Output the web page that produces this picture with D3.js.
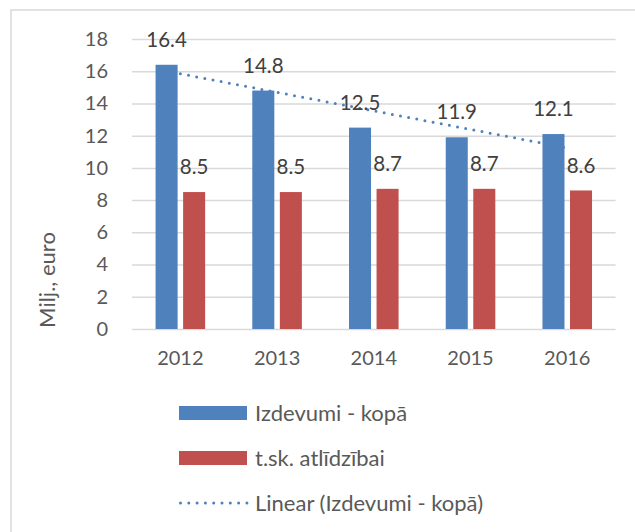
<!DOCTYPE html>
<html>
<head>
<meta charset="utf-8">
<script src="https://cdn.jsdelivr.net/npm/d3@7"></script>
<style>
  html, body { margin: 0; padding: 0; background: #fff; }
  svg { display: block; font-family: Lato, "Open Sans", sans-serif; }
</style>
</head>
<body>
<svg id="chart" width="635" height="532"></svg>
<script>
// Data
const years = ['2012', '2013', '2014', '2015', '2016'];
const seriesNames = ['Izdevumi - kopā', 't.sk. atlīdzībai'];
const totalValues = [16.4, 14.8, 12.5, 11.9, 12.1];
const salaryValues = [8.5, 8.5, 8.7, 8.7, 8.6];
const yTicks = [0, 2, 4, 6, 8, 10, 12, 14, 16, 18];
const trendLabel = 'Linear (Izdevumi - kopā)';
const yTitle = 'Milj., euro';

const colors = { blue: '#4F81BD', red: '#C0504D' };

const svg = d3.select('#chart');

// outer chart border (runs off the right/bottom edges)
svg.append('rect')
    .attr('x', 11).attr('y', 10)
    .attr('width', 640).attr('height', 540)
    .attr('fill', 'none')
    .attr('stroke', '#d9d9d9')
    .attr('stroke-width', 1.5);

const plot = { left: 132, right: 615.6, top: 39, bottom: 329 };

const x0 = d3.scaleBand().domain(years).range([plot.left, plot.right]);
const x1 = d3.scaleBand().domain(seriesNames).range([0, x0.bandwidth()])
    .paddingInner(0.2).paddingOuter(0.856);
const y = d3.scaleLinear().domain([0, 18]).range([plot.bottom, plot.top]);

// y axis + gridlines
svg.append('g')
    .attr('transform', `translate(${plot.left},0)`)
    .call(d3.axisLeft(y).tickValues(yTicks).tickSize(-(plot.right - plot.left)).tickPadding(24))
    .call(g => g.select('.domain').remove())
    .call(g => g.selectAll('.tick line').attr('stroke', '#d9d9d9').attr('stroke-width', 1.5))
    .call(g => g.selectAll('.tick text')
        .attr('fill', '#595959')
        .style('font-size', '20px')
        .style('font-family', 'Lato, sans-serif'));

// x axis labels
svg.append('g')
    .attr('transform', `translate(0,${plot.bottom})`)
    .call(d3.axisBottom(x0).tickSize(0).tickPadding(22))
    .call(g => g.select('.domain').remove())
    .call(g => g.selectAll('.tick text')
        .attr('fill', '#595959')
        .style('font-size', '20px')
        .style('font-family', 'Lato, sans-serif'));

// y axis title
svg.append('text')
    .attr('transform', 'translate(47,280) rotate(-90)')
    .attr('text-anchor', 'middle')
    .attr('dy', '0.35em')
    .attr('fill', '#595959')
    .style('font-size', '22px')
    .text(yTitle);

// trendline (linear fit of totals), drawn behind bars
const n = totalValues.length;
const xs = d3.range(1, n + 1);
const mx = d3.mean(xs), my = d3.mean(totalValues);
const slope = d3.sum(xs, (v, i) => (v - mx) * (totalValues[i] - my)) / d3.sum(xs, v => (v - mx) ** 2);
const intercept = my - slope * mx;
const trendPts = years.map((yr, i) => [x0(yr) + x0.bandwidth() / 2, y(intercept + slope * (i + 1))]);

svg.append('path')
    .attr('d', d3.line()([trendPts[0], trendPts[n - 1]]))
    .attr('fill', 'none')
    .attr('stroke', colors.blue)
    .attr('stroke-width', 3)
    .attr('stroke-linecap', 'round')
    .attr('stroke-dasharray', '0 8.3');

// bars
const rows = years.map((yr, i) => ({ year: yr, vals: [totalValues[i], salaryValues[i]] }));
const seriesColors = [colors.blue, colors.red];

const groups = svg.append('g').selectAll('g')
    .data(rows)
    .join('g')
    .attr('transform', d => `translate(${x0(d.year)},0)`);

groups.selectAll('rect')
    .data(d => d.vals.map((v, k) => ({ key: seriesNames[k], v, k })))
    .join('rect')
    .attr('x', d => x1(d.key))
    .attr('width', x1.bandwidth())
    .attr('y', d => y(d.v))
    .attr('height', d => y(0) - y(d.v))
    .attr('fill', d => seriesColors[d.k]);

// data labels
groups.selectAll('text')
    .data(d => d.vals.map((v, k) => ({ key: seriesNames[k], v, k })))
    .join('text')
    .attr('x', d => x1(d.key) + x1.bandwidth() / 2)
    .attr('y', d => y(d.v) - 25)
    .attr('dy', '0.35em')
    .attr('text-anchor', 'middle')
    .attr('fill', '#404040')
    .style('font-size', '20.5px')
    .text(d => d.v.toFixed(1));

// legend
const legend = svg.append('g').attr('transform', 'translate(179,0)');
const legendItems = [
    { label: seriesNames[0], type: 'bar', color: colors.blue, cy: 413 },
    { label: seriesNames[1], type: 'bar', color: colors.red, cy: 458 },
    { label: trendLabel, type: 'line', color: colors.blue, cy: 503 }
];
legendItems.forEach(item => {
    if (item.type === 'bar') {
        legend.append('rect')
            .attr('x', 0).attr('y', item.cy - 7)
            .attr('width', 68).attr('height', 14)
            .attr('fill', item.color);
    } else {
        legend.append('line')
            .attr('x1', 1.5).attr('x2', 68)
            .attr('y1', item.cy).attr('y2', item.cy)
            .attr('stroke', item.color)
            .attr('stroke-width', 3)
            .attr('stroke-linecap', 'round')
            .attr('stroke-dasharray', '0 8.3');
    }
    legend.append('text')
        .attr('x', 76).attr('y', item.cy)
        .attr('dy', '0.35em')
        .attr('fill', '#595959')
        .style('font-size', '22px')
        .text(item.label);
});
</script>
</body>
</html>
